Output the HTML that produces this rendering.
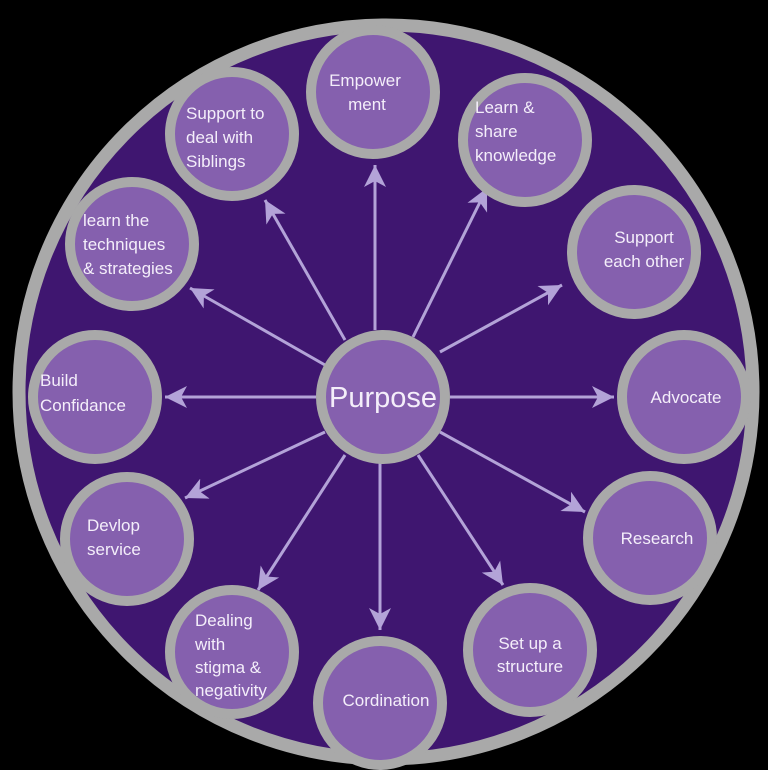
<!DOCTYPE html>
<html><head><meta charset="utf-8"><style>
html,body{margin:0;padding:0;background:#000;}
svg{display:block;}
text{font-family:"Liberation Sans",sans-serif;fill:#f4eefa;font-size:17px;}
</style></head><body>
<svg width="768" height="770" viewBox="0 0 768 770" xmlns="http://www.w3.org/2000/svg">
<defs>
<marker id="a" markerUnits="userSpaceOnUse" markerWidth="26" markerHeight="24" refX="22" refY="11" orient="auto">
<path d="M0,0 L22,11 L0,22 L6,11 Z" fill="#b3a3d8"/>
</marker>
</defs>
<rect width="768" height="770" fill="#000"/>
<circle cx="386" cy="392" r="367" fill="#3f1670" stroke="#a9a9a9" stroke-width="13"/>
<g stroke="#b3a3d8" stroke-width="3" marker-end="url(#a)">
<line x1="375" y1="330" x2="375" y2="165"/>
<line x1="413" y1="337" x2="487" y2="188"/>
<line x1="440" y1="352" x2="562" y2="285"/>
<line x1="450" y1="397" x2="614" y2="397"/>
<line x1="440" y1="432" x2="585" y2="512"/>
<line x1="418" y1="455" x2="503" y2="585"/>
<line x1="380" y1="463" x2="380" y2="630"/>
<line x1="345" y1="455" x2="258" y2="590"/>
<line x1="325" y1="432" x2="185" y2="498"/>
<line x1="316" y1="397" x2="165" y2="397"/>
<line x1="325" y1="365" x2="190" y2="288"/>
<line x1="345" y1="340" x2="265" y2="200"/>
</g>
<g fill="#8560ae" stroke="#a9a9a9" stroke-width="10">
<circle cx="383" cy="397" r="62"/>
<circle cx="373" cy="92" r="62"/>
<circle cx="525" cy="140" r="62"/>
<circle cx="634" cy="252" r="62"/>
<circle cx="684" cy="397" r="62"/>
<circle cx="650" cy="538" r="62"/>
<circle cx="530" cy="650" r="62"/>
<circle cx="380" cy="703" r="62"/>
<circle cx="232" cy="652" r="62"/>
<circle cx="127" cy="539" r="62"/>
<circle cx="95" cy="397" r="62"/>
<circle cx="132" cy="244" r="62"/>
<circle cx="232" cy="134" r="62"/>
</g>
<text x="383" y="407" text-anchor="middle" style="font-size:29px">Purpose</text>
<g text-anchor="middle">
<text x="365" y="86">Empower</text><text x="367" y="110">ment</text>
<text x="644" y="243">Support</text><text x="644" y="267">each other</text>
<text x="686" y="403">Advocate</text>
<text x="657" y="544">Research</text>
<text x="530" y="649">Set up a</text><text x="530" y="672">structure</text>
<text x="386" y="706">Cordination</text>
</g>
<text x="475" y="113">Learn  &amp;</text><text x="475" y="137">share</text><text x="475" y="161">knowledge</text>
<text x="186" y="119">Support to</text><text x="186" y="143">deal with</text><text x="186" y="167">Siblings</text>
<text x="83" y="226">learn the</text><text x="83" y="250">techniques</text><text x="83" y="274">&amp; strategies</text>
<text x="40" y="386">Build</text><text x="40" y="411">Confidance</text>
<text x="87" y="531">Devlop</text><text x="87" y="555">service</text>
<text x="195" y="626">Dealing</text><text x="195" y="650">with</text><text x="195" y="673">stigma &amp;</text><text x="195" y="696">negativity</text>
</svg>
</body></html>
